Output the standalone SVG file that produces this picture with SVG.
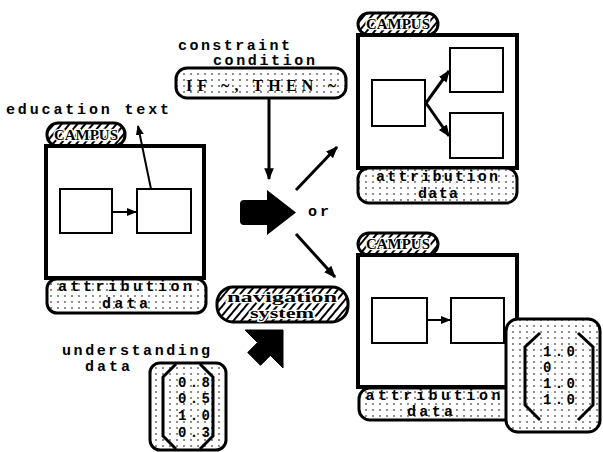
<svg xmlns="http://www.w3.org/2000/svg" width="603" height="452" viewBox="0 0 603 452">
<style>
  .t { font-family: "Liberation Mono", "DejaVu Sans Mono", monospace; font-weight: bold; font-size: 15px; fill: #000; }
  .m { font-family: "Liberation Mono", "DejaVu Sans Mono", monospace; font-weight: bold; font-size: 14px; fill: #000; }
  .ts { font-family: "Liberation Serif", "DejaVu Serif", serif; font-weight: bold; font-size: 16px; fill: #000; }
  .frame { fill: #fff; stroke: #000; stroke-width: 4; }
  .box { fill: #fff; stroke: #000; stroke-width: 2; }
  .dotpill { fill: url(#dots); stroke: #000; stroke-width: 3; }
  .hatchpill { fill: url(#hatch); stroke: #000; stroke-width: 3; }
  .tag { font-family: "Liberation Serif", "DejaVu Serif", serif; font-weight: bold; font-size: 14px; fill: #000; stroke: #fff; stroke-width: 2.5; paint-order: stroke; }
  .ln { stroke: #000; stroke-width: 2; fill: none; }
  .lnb { stroke: #000; stroke-width: 3; fill: none; }
</style>
<defs>
  <pattern id="dots" width="7" height="6" patternUnits="userSpaceOnUse">
    <rect width="7" height="6" fill="#fff"/>
    <circle cx="2" cy="2" r="0.8" fill="#000"/>
  </pattern>
  <pattern id="hatch" width="6" height="6" patternUnits="userSpaceOnUse" patternTransform="rotate(40)">
    <rect width="6" height="6" fill="#fff"/>
    <line x1="1" y1="0" x2="1" y2="6" stroke="#000" stroke-width="2"/>
  </pattern>
  <marker id="ah" viewBox="0 0 10 10" refX="9" refY="5" markerWidth="5" markerHeight="5" orient="auto" markerUnits="strokeWidth">
    <path d="M0,1 L10,5 L0,9 Z" fill="#000"/>
  </marker>
  <marker id="ahs" viewBox="0 0 10 10" refX="9" refY="5" markerWidth="4" markerHeight="4" orient="auto" markerUnits="strokeWidth">
    <path d="M0,1 L10,5 L0,9 Z" fill="#000"/>
  </marker>
</defs>

<g id="education-text">
  <text class="t" x="6" y="114" textLength="163" lengthAdjust="spacing">education text</text>
</g>

<g id="window-left">
  <rect class="hatchpill" x="47" y="123" width="78" height="23" rx="11"/>
  <text class="tag" x="86" y="140" text-anchor="middle" textLength="64" lengthAdjust="spacingAndGlyphs">CAMPUS</text>
  <rect class="frame" x="46" y="146" width="158" height="132"/>
  <rect class="box" x="60" y="189" width="52" height="44"/>
  <rect class="box" x="137" y="189" width="54" height="44"/>
  <rect class="dotpill" x="47" y="279" width="159" height="34" rx="10"/>
  <text class="t" x="125" y="291" text-anchor="middle" textLength="134" lengthAdjust="spacing">attribution</text>
  <text class="t" x="125" y="308" text-anchor="middle" textLength="46" lengthAdjust="spacing">data</text>
</g>

<g id="constraint">
  <text class="t" x="178" y="50" textLength="112" lengthAdjust="spacing">constraint</text>
  <text class="t" x="213" y="65" textLength="102" lengthAdjust="spacing">condition</text>
  <rect class="dotpill" x="176" y="68" width="170" height="30" rx="11"/>
  <text class="ts" x="261" y="91" text-anchor="middle" textLength="150" lengthAdjust="spacing">IF ~, THEN ~</text>
</g>

<g id="block-arrow">
  <path d="M244,200 L267,200 L267,190 L296,212.5 L267,235 L267,225 L244,225 Q240,225 240,221 L240,204 Q240,200 244,200 Z" fill="#000"/>
  <text class="t" x="308" y="216" textLength="21" lengthAdjust="spacing">or</text>
</g>

<g id="navigation">
  <rect class="hatchpill" x="217" y="287" width="131" height="35" rx="16"/>
  <text class="tag" x="282" y="302" text-anchor="middle" textLength="110" lengthAdjust="spacingAndGlyphs">navigation</text>
  <text class="tag" x="282" y="318" text-anchor="middle" textLength="64" lengthAdjust="spacingAndGlyphs">system</text>
</g>

<g id="ne-arrow">
  <polygon points="283,330 283,368 270.4,355.4 260.5,365.3 247.7,352.5 257.6,342.6 245,330" fill="#000" stroke="#000" stroke-width="1" stroke-linejoin="round"/>
</g>

<g id="understanding">
  <text class="t" x="62" y="355" textLength="148" lengthAdjust="spacing">understanding</text>
  <text class="t" x="85" y="371" textLength="45" lengthAdjust="spacing">data</text>
  <rect class="dotpill" x="150" y="363" width="76" height="87" rx="10"/>
  <polyline class="lnb" points="176,364 163,377 163,436 176,449"/>
  <polyline class="lnb" points="200,364 213,377 213,436 200,449"/>
  <text class="m" x="178" y="387" textLength="32" lengthAdjust="spacing">0.8</text>
  <text class="m" x="178" y="403" textLength="32" lengthAdjust="spacing">0.5</text>
  <text class="m" x="178" y="420" textLength="32" lengthAdjust="spacing">1.0</text>
  <text class="m" x="178" y="437" textLength="32" lengthAdjust="spacing">0.3</text>
</g>

<g id="window-top-right">
  <rect class="hatchpill" x="358" y="13" width="80" height="22" rx="11"/>
  <text class="tag" x="398" y="29" text-anchor="middle" textLength="64" lengthAdjust="spacingAndGlyphs">CAMPUS</text>
  <rect class="frame" x="358" y="35" width="159" height="133"/>
  <rect class="box" x="372" y="80" width="53" height="46"/>
  <rect class="box" x="450" y="48" width="53" height="44"/>
  <rect class="box" x="450" y="113" width="53" height="45"/>
  <rect class="dotpill" x="358" y="168" width="159" height="35" rx="11"/>
  <text class="t" x="437" y="181" text-anchor="middle" textLength="122" lengthAdjust="spacing">attribution</text>
  <text class="t" x="438" y="198" text-anchor="middle" textLength="40" lengthAdjust="spacing">data</text>
</g>

<g id="window-bottom-right">
  <rect class="hatchpill" x="358" y="233" width="80" height="22" rx="11"/>
  <text class="tag" x="398" y="249" text-anchor="middle" textLength="64" lengthAdjust="spacingAndGlyphs">CAMPUS</text>
  <rect class="frame" x="358" y="255" width="159" height="132"/>
  <rect class="box" x="372" y="298" width="55" height="45"/>
  <rect class="box" x="451" y="298" width="53" height="45"/>
  <rect class="dotpill" x="359" y="388" width="157" height="32" rx="11"/>
  <text class="t" x="433" y="400" text-anchor="middle" textLength="135" lengthAdjust="spacing">attribution</text>
  <text class="t" x="430" y="416" text-anchor="middle" textLength="46" lengthAdjust="spacing">data</text>
</g>

<g id="matrix-right">
  <rect class="dotpill" x="506" y="319" width="94" height="113" rx="12"/>
  <polyline class="lnb" points="540,333 525,347 525,405 540,420"/>
  <polyline class="lnb" points="578,333 593,347 593,405 578,420"/>
  <text class="m" x="543" y="356" textLength="32" lengthAdjust="spacing">1.0</text>
  <text class="m" x="543" y="372">0</text>
  <text class="m" x="543" y="388" textLength="32" lengthAdjust="spacing">1.0</text>
  <text class="m" x="543" y="404" textLength="32" lengthAdjust="spacing">1.0</text>
</g>

<g id="connectors">
  <line class="ln" x1="112" y1="212" x2="136" y2="212" marker-end="url(#ah)"/>
  <line class="ln" x1="151" y1="189" x2="138" y2="126" marker-end="url(#ah)"/>
  <line class="lnb" x1="269" y1="98" x2="269" y2="179" marker-end="url(#ahs)"/>
  <line class="lnb" x1="296" y1="190" x2="337" y2="147" marker-end="url(#ahs)"/>
  <line class="lnb" x1="296" y1="234" x2="335" y2="277" marker-end="url(#ahs)"/>
  <line class="lnb" x1="426" y1="103" x2="449" y2="71" marker-end="url(#ahs)"/>
  <line class="lnb" x1="426" y1="103" x2="449" y2="136" marker-end="url(#ahs)"/>
  <line class="ln" x1="427" y1="320" x2="450" y2="320" marker-end="url(#ah)"/>
</g>
</svg>
